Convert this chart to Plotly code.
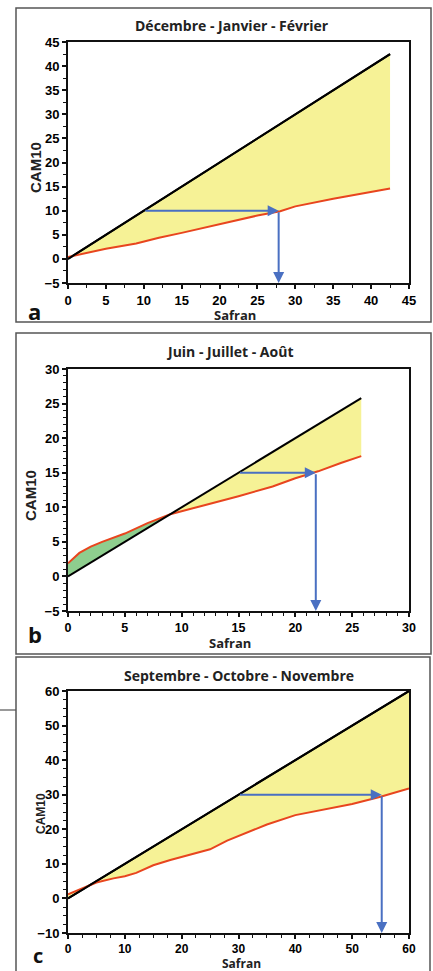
import plotly.graph_objects as go

W, H = 433, 971

# ---------------- data ----------------
# Panel a : Décembre - Janvier - Février
a_title = "Décembre - Janvier - Février"
a_x = [0, 2.5, 5, 9, 12, 15, 20, 25, 28, 30, 35, 40, 42.5]
a_red = [0.4, 1.3, 2.1, 3.2, 4.4, 5.4, 7.2, 9.0, 9.9, 10.9, 12.5, 13.9, 14.6]
a_diag = [0, 42.5]
a_start, a_read = 10, 27.8
a_xrange, a_yrange = [0, 45], [-5, 45]

# Panel b : Juin - Juillet - Août
b_title = "Juin - Juillet - Août"
b_x = [0, 0.5, 1, 2, 3, 5, 7, 9, 10, 12, 15, 18, 20, 22, 24, 25.8]
b_red = [1.9, 2.6, 3.4, 4.3, 5.0, 6.2, 7.7, 9.0, 9.4, 10.3, 11.6, 13.0, 14.2, 15.2, 16.4, 17.4]
b_diag = [0, 25.8]
b_cross = 9.0
b_start, b_read = 15, 21.8
b_xrange, b_yrange = [0, 30], [-5, 30]

# Panel c : Septembre - Octobre - Novembre
c_title = "Septembre - Octobre - Novembre"
c_x = [0, 2, 3.5, 5, 8, 10, 12, 15, 18, 20, 22, 25, 28, 30, 35, 40, 45, 50, 55, 60]
c_red = [1.2, 2.6, 3.5, 4.6, 5.8, 6.4, 7.4, 9.6, 11.1, 12.0, 12.8, 14.2, 16.7, 18.1,
         21.4, 24.1, 25.7, 27.3, 29.4, 31.8]
c_diag = [0, 60]
c_start, c_read = 30, 55.2
c_xrange, c_yrange = [0, 60], [-10, 60]

# ---------------- styles ----------------
YELLOW = "rgb(246,242,150)"
GREEN = "rgb(142,206,142)"
RED = "#e8451e"
BLUE = "#4a70c2"
TICKFONT = dict(family="Liberation Sans", size=13, color="black", weight="bold")
TITLEFONT = dict(family="Open Sans", size=14, color="#222", weight="bold")


def px(x):
    return x / W


def py(y):
    return 1 - y / H


fig = go.Figure()

# Panel a
fig.add_trace(go.Scatter(x=a_diag, y=a_diag, mode="lines", line=dict(color="black", width=2),
                         xaxis="x", yaxis="y", showlegend=False))
fig.add_trace(go.Scatter(x=a_x, y=a_red, mode="lines", line=dict(color=RED, width=2),
                         fill="tonexty", fillcolor=YELLOW, xaxis="x", yaxis="y", showlegend=False))
fig.add_trace(go.Scatter(x=a_diag, y=a_diag, mode="lines", line=dict(color="black", width=2),
                         xaxis="x", yaxis="y", showlegend=False))

# Panel b : green region (red above diagonal) and yellow region
gx = [v for v in b_x if v <= b_cross]
gy = [r for v, r in zip(b_x, b_red) if v <= b_cross]
yx = [v for v in b_x if v >= b_cross]
yy = [r for v, r in zip(b_x, b_red) if v >= b_cross]
fig.add_trace(go.Scatter(x=gx + [b_cross, b_diag[0]], y=gy + [b_cross, b_diag[0]],
                         mode="none", fill="toself", fillcolor=GREEN,
                         xaxis="x2", yaxis="y2", showlegend=False))
fig.add_trace(go.Scatter(x=[b_cross, b_diag[1]] + yx[::-1], y=[b_cross, b_diag[1]] + yy[::-1],
                         mode="none", fill="toself", fillcolor=YELLOW,
                         xaxis="x2", yaxis="y2", showlegend=False))
fig.add_trace(go.Scatter(x=b_x, y=b_red, mode="lines", line=dict(color=RED, width=2),
                         xaxis="x2", yaxis="y2", showlegend=False))
fig.add_trace(go.Scatter(x=b_diag, y=b_diag, mode="lines", line=dict(color="black", width=2),
                         xaxis="x2", yaxis="y2", showlegend=False))

# Panel c
fig.add_trace(go.Scatter(x=c_diag, y=c_diag, mode="lines", line=dict(color="black", width=2),
                         xaxis="x3", yaxis="y3", showlegend=False))
fig.add_trace(go.Scatter(x=c_x, y=c_red, mode="lines", line=dict(color=RED, width=2),
                         fill="tonexty", fillcolor=YELLOW, xaxis="x3", yaxis="y3", showlegend=False))
fig.add_trace(go.Scatter(x=c_diag, y=c_diag, mode="lines", line=dict(color="black", width=2),
                         xaxis="x3", yaxis="y3", showlegend=False))

# ---------------- axes ----------------
xdom = [px(68), px(409)]
doms = {"": [py(283), py(42)], "2": [py(611), py(369)], "3": [py(933), py(691)]}
# (x range, y range, x major step, y major step, x minor step, y minor step, x tick font size)
specs = {
    "": (a_xrange, a_yrange, 5, 5, 2.5, 2.5, 13),
    "2": (b_xrange, b_yrange, 5, 5, 1, 1, 12.5),
    "3": (c_xrange, c_yrange, 10, 10, 2.5, 2.5, 12),
}
layout_axes = {}
for k, (xr, yr, xd, yd, xm, ym, xfs) in specs.items():
    common = dict(showline=True, linewidth=2, linecolor="#111", mirror=True, showgrid=False,
                  zeroline=False, ticks="outside", ticklen=4, tickwidth=1.5, tickcolor="#111",
                  tickfont=TICKFONT, fixedrange=True, tickmode="linear", tick0=0,
                  automargin=False)
    layout_axes["xaxis" + k] = dict(common, domain=xdom, range=xr, dtick=xd,
                                    anchor="y" + k, tickfont=dict(TICKFONT, size=xfs),
                                    minor=dict(dtick=xm, tick0=0, ticks="outside", ticklen=3,
                                               tickwidth=1.2, tickcolor="#111", showgrid=False))
    layout_axes["yaxis" + k] = dict(common, domain=doms[k], range=yr, dtick=yd,
                                    anchor="x" + k,
                                    minor=dict(dtick=ym, tick0=0, ticks="outside", ticklen=3,
                                               tickwidth=1.2, tickcolor="#111", showgrid=False))

# ---------------- arrows ----------------
anns = []
for k, s, r, ymin in (("", a_start, a_read, a_yrange[0]),
                      ("2", b_start, b_read, b_yrange[0]),
                      ("3", c_start, c_read, c_yrange[0])):
    xa, ya = "x" + k, "y" + k
    anns.append(dict(x=r, y=s, ax=s, ay=s, xref=xa, yref=ya, axref=xa, ayref=ya, text="",
                     showarrow=True, arrowhead=2, arrowsize=1.1, arrowwidth=2, arrowcolor=BLUE))
    anns.append(dict(x=r, y=ymin, ax=r, ay=s, xref=xa, yref=ya, axref=xa, ayref=ya, text="",
                     showarrow=True, arrowhead=2, arrowsize=1.1, arrowwidth=2, arrowcolor=BLUE))


# ---------------- texts ----------------
def txt(text, x, y, font, angle=0):
    anns.append(dict(text=text, x=px(x), y=py(y), xref="paper", yref="paper", showarrow=False,
                     xanchor="center", yanchor="middle", font=font, textangle=angle))


txt(a_title, 232, 25, TITLEFONT)
txt(b_title, 229, 351, TITLEFONT)
txt(c_title, 239, 675, TITLEFONT)

AX = dict(family="Liberation Sans", size=15, color="#222", weight="bold")
SAF = dict(family="Open Sans", size=13, color="#222", weight="bold")
txt("CAM10", 35, 168, AX, -90)
txt("CAM10", 30, 495, AX, -90)
txt("CAM10", 41, 814, dict(AX, size=12), -90)
txt("Safran", 235, 315, SAF)
txt("Safran", 230, 643, SAF)
txt("Safran", 241, 963.5, dict(SAF, size=12))

LET = dict(family="Open Sans", size=22, color="#111", weight="bold")
txt("a", 34, 311, LET)
txt("b", 35, 634, LET)
txt("c", 38, 955, dict(LET, size=20))

# ---------------- frames ----------------
shapes = []
for (l, t, r, b) in ((16, 8, 431, 322), (16, 333, 431, 654), (16, 657, 430, 990)):
    shapes.append(dict(type="rect", xref="paper", yref="paper", x0=px(l), x1=px(r),
                       y0=py(b), y1=py(t), line=dict(color="#555", width=1.5)))
shapes.append(dict(type="line", xref="paper", yref="paper", x0=0, x1=px(16), y0=py(710), y1=py(710),
                   line=dict(color="#555", width=1.2)))

fig.update_layout(template="none", width=W, height=H, margin=dict(l=0, r=0, t=0, b=0, pad=0),
                  paper_bgcolor="white", plot_bgcolor="white", showlegend=False,
                  annotations=anns, shapes=shapes, **layout_axes)

fig.write_html("out.html", config={"displayModeBar": False},
               post_script="document.body.style.margin='0';")
